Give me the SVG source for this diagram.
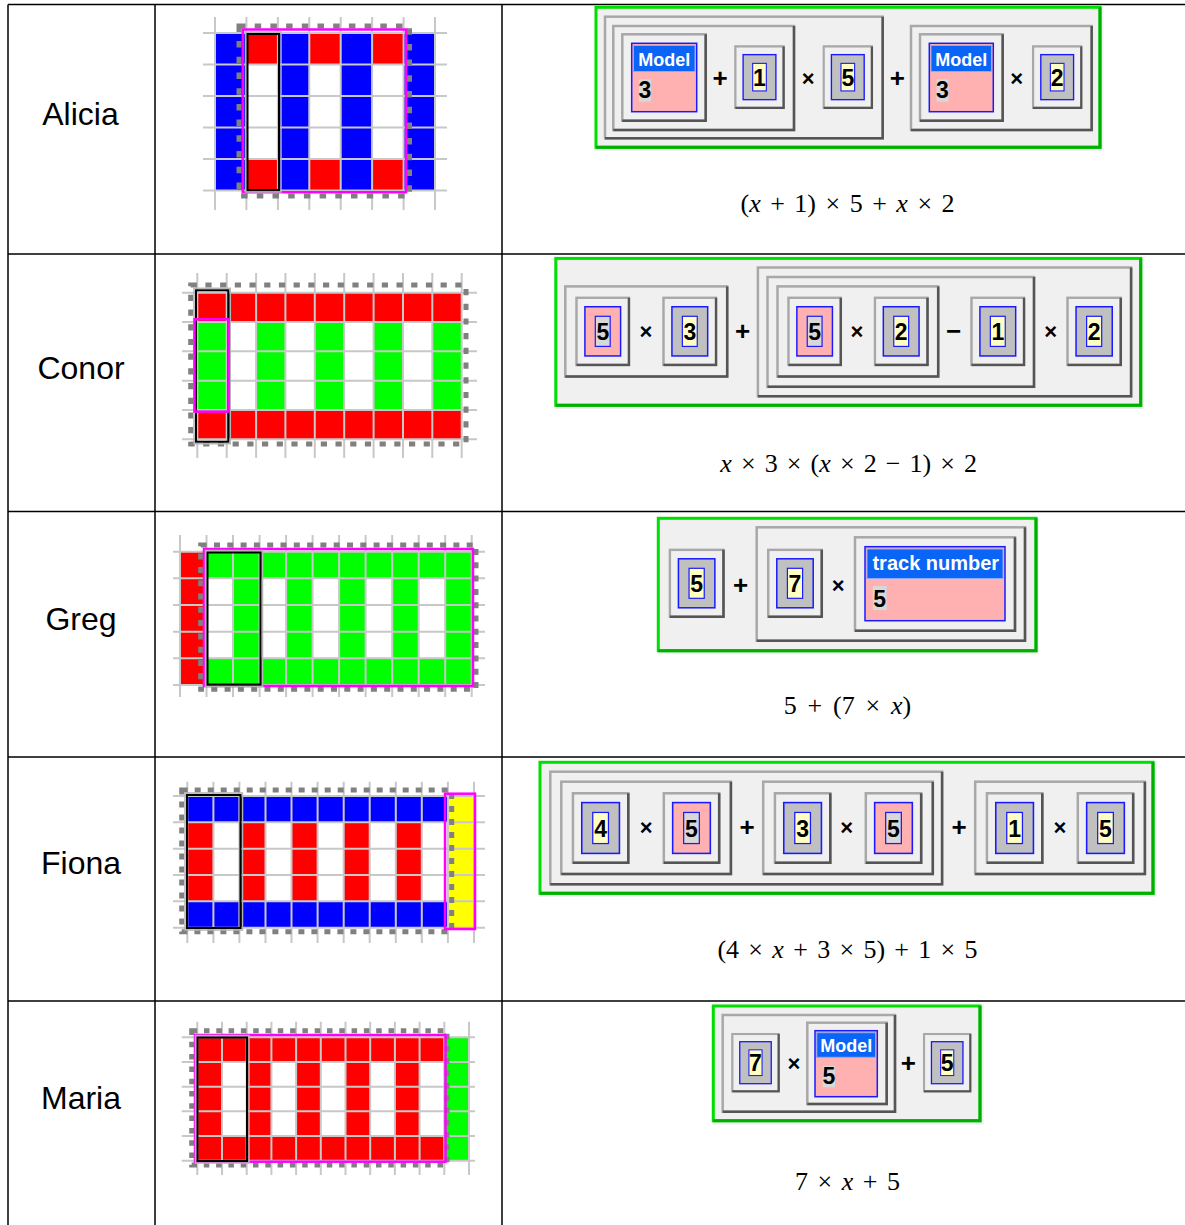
<svg xmlns="http://www.w3.org/2000/svg" width="1185" height="1225" viewBox="0 0 1185 1225">
<style>
.tl{stroke:#000;stroke-width:1.5}
.nm{font-family:"Liberation Sans",Arial,sans-serif;font-size:32px;text-anchor:middle;fill:#000}
.fm{font-family:"Liberation Serif","Times New Roman",serif;font-size:26px;text-anchor:middle;fill:#000}
.v{font-style:italic}
.gl{fill:none;stroke:#c8c8c8;stroke-width:2}
.R{fill:#ff0000}.B{fill:#0000ff}.G{fill:#00ff00}.Y{fill:#ffff00}
.dsh{fill:none;stroke:#808080;stroke-width:5}
.pk{fill:none;stroke:#ff00ff;stroke-width:2.5}
.sel{fill:none;stroke:#000;stroke-width:2}
.selo{fill:none;stroke:#b4b4b4;stroke-width:1.5}
.gm{fill:#f0f0f0}
.gb{fill:#f0f0f0;stroke:#00e000;stroke-width:3}
.gbs{fill:none;stroke:#00b000;stroke-width:3}
.bx{fill:#f0f0f0;stroke:#a8a8a8;stroke-width:2.5}
.bs{fill:none;stroke:#555;stroke-width:2.5}
.dg{font-family:"Liberation Sans",Arial,sans-serif;font-weight:bold;font-size:23px;text-anchor:middle;fill:#000}
.op{font-family:"Liberation Sans",Arial,sans-serif;font-weight:bold;font-size:26px;text-anchor:middle;fill:#000}
.ox{font-family:"Liberation Sans",Arial,sans-serif;font-weight:bold;font-size:22px;text-anchor:middle;fill:#000}
.mb{fill:#ffb0b0;stroke:#1a1aff;stroke-width:1.5}
.mh{fill:#0a64f5;stroke:#8caaff;stroke-width:1}
.mt{font-family:"Liberation Sans",Arial,sans-serif;font-weight:bold;font-size:18px;text-anchor:middle;fill:#fff}
.db{fill:#d8d8d8}
</style>
<defs>
<symbol id="tc" viewBox="0 0 56 70" preserveAspectRatio="none">
<rect x="1.5" y="1.5" width="53" height="67" fill="#f0f0f0" stroke="#a8a8a8" stroke-width="2.5"/>
<path d="M1.5 68.5H54.5V1.5" fill="none" stroke="#555" stroke-width="2.5"/>
<rect x="10" y="10.5" width="36" height="49" fill="#c0c0c0" stroke="#1a1aff" stroke-width="1.5"/>
<rect x="20.5" y="20" width="15" height="30" fill="#ffffc4" stroke="#1a1aff" stroke-width="1.2"/>
</symbol>
<symbol id="tv" viewBox="0 0 56 70" preserveAspectRatio="none">
<rect x="1.5" y="1.5" width="53" height="67" fill="#f0f0f0" stroke="#a8a8a8" stroke-width="2.5"/>
<path d="M1.5 68.5H54.5V1.5" fill="none" stroke="#555" stroke-width="2.5"/>
<rect x="10" y="10.5" width="36" height="49" fill="#ffb0b0" stroke="#1a1aff" stroke-width="1.5"/>
<rect x="20.5" y="20" width="15" height="30" fill="#d8d8d8" stroke="#1a1aff" stroke-width="1.2"/>
</symbol>
</defs>
<rect width="1185" height="1225" fill="#fff"/>

<g id="table">
<path class="tl" d="M8 4.5H1185M8 254H1185M8 511.5H1185M8 757H1185M8 1001H1185M8 4.5V1225M155 4.5V1225M502 4.5V1225"/>
</g>

<g id="row-alicia">
<text class="nm" x="80.5" y="124.5">Alicia</text>
<g id="grid-alicia">
<rect class="B" x="215" y="33" width="31.4" height="157.5"/>
<rect class="B" x="277.9" y="33" width="31.4" height="157.5"/>
<rect class="B" x="340.7" y="33" width="31.4" height="157.5"/>
<rect class="B" x="403.6" y="33" width="31.4" height="157.5"/>
<rect class="R" x="246.4" y="33" width="31.5" height="31.5"/><rect class="R" x="246.4" y="159" width="31.5" height="31.5"/>
<rect class="R" x="309.3" y="33" width="31.4" height="31.5"/><rect class="R" x="309.3" y="159" width="31.4" height="31.5"/>
<rect class="R" x="372.1" y="33" width="31.5" height="31.5"/><rect class="R" x="372.1" y="159" width="31.5" height="31.5"/>
<path class="gl" d="M215 17V210M246.4 17V210M277.9 17V210M309.3 17V210M340.7 17V210M372.1 17V210M403.6 17V210M435 17V210M203 33H447M203 64.5H447M203 96H447M203 127.5H447M203 159H447M203 190.5H447"/>
<rect class="dsh" x="239" y="26" width="170.5" height="170" stroke-dasharray="6.5 9.2"/>
<rect class="pk" x="242.8" y="29.5" width="163.3" height="162.7"/>
<rect class="selo" x="245.5" y="32" width="35.5" height="160"/>
<rect class="sel" x="247.5" y="34" width="31.5" height="156"/>
</g>
<g id="expr-alicia">
<rect class="gm" x="594.5" y="5.8" width="509" height="145"/>
<rect class="gb" x="596" y="7.3" width="504" height="140"/><path class="gbs" d="M596 147.3H1100V7.3"/>
<rect class="bx" x="605" y="16.7" width="277.7" height="121.6"/><path class="bs" d="M605 138.3H882.7V16.7"/>
<rect class="bx" x="613.3" y="26" width="180.7" height="104"/><path class="bs" d="M613.3 130H794V26"/>
<rect class="bx" x="622.3" y="34.3" width="83.4" height="86.4"/><path class="bs" d="M622.3 120.7H705.7V34.3"/>
<rect class="mb" x="631.7" y="43.3" width="65" height="68.4"/><rect class="mh" x="633.5" y="45.5" width="61.5" height="26"/>
<text class="mt" x="664.2" y="65.5">Model</text>
<rect class="db" x="639" y="79.3" width="12" height="22.4"/><text class="dg" x="645" y="97.5">3</text>
<text class="op" x="720" y="87">+</text>
<use href="#tc" x="734" y="45" width="51" height="64.3"/><text class="dg" x="759.5" y="85.5">1</text>
<text class="ox" x="808.3" y="86">×</text>
<use href="#tc" x="822.3" y="45" width="51" height="64.3"/><text class="dg" x="847.8" y="85.5">5</text>
<text class="op" x="897.3" y="87">+</text>
<rect class="bx" x="911" y="26" width="180.7" height="104"/><path class="bs" d="M911 130H1091.7V26"/>
<rect class="bx" x="920" y="34.3" width="82.7" height="86.4"/><path class="bs" d="M920 120.7H1002.7V34.3"/>
<rect class="mb" x="929.3" y="43.3" width="64" height="68.4"/><rect class="mh" x="931" y="45.5" width="60.5" height="26"/>
<text class="mt" x="961.3" y="65.5">Model</text>
<rect class="db" x="936.5" y="79.3" width="12" height="22.4"/><text class="dg" x="942.5" y="97.5">3</text>
<text class="ox" x="1016.7" y="86">×</text>
<use href="#tc" x="1031.7" y="45" width="51" height="64.3"/><text class="dg" x="1057.2" y="85.5">2</text>
</g>
<text class="fm" x="847.5" y="212" word-spacing="3">(<tspan class="v">x</tspan> + 1) × 5 + <tspan class="v">x</tspan> × 2</text>
</g>

<g id="row-conor">
<text class="nm" x="81" y="378.5">Conor</text>
<g id="grid-conor">
<rect class="R" x="197.3" y="292.7" width="264.4" height="29.3"/>
<rect class="R" x="197.3" y="410" width="264.4" height="29.3"/>
<rect class="G" x="197.3" y="322" width="29.4" height="88"/>
<rect class="G" x="256.1" y="322" width="29.3" height="88"/>
<rect class="G" x="314.8" y="322" width="29.4" height="88"/>
<rect class="G" x="373.6" y="322" width="29.4" height="88"/>
<rect class="G" x="432.3" y="322" width="29.4" height="88"/>
<path class="gl" d="M197.3 273V458M226.7 273V458M256.1 273V458M285.4 273V458M314.8 273V458M344.2 273V458M373.6 273V458M403 273V458M432.3 273V458M461.7 273V458M182 292.7H477M182 322H477M182 351.3H477M182 380.7H477M182 410H477M182 439.3H477"/>
<rect class="dsh" x="190.7" y="285" width="275.3" height="159" stroke-dasharray="6.2 8.5"/>
<rect class="selo" x="194" y="288.3" width="36.3" height="155.4"/>
<rect class="sel" x="196" y="290.3" width="32.3" height="151.4"/>
<rect class="pk" x="194.5" y="319.3" width="34" height="92.3"/>
</g>
<g id="expr-conor">
<rect class="gm" x="554.3" y="256.9" width="590" height="152"/>
<rect class="gb" x="555.8" y="258.4" width="584.9" height="146.9"/><path class="gbs" d="M555.8 405.3H1140.7V258.4"/>
<rect class="bx" x="565.3" y="286.4" width="161.9" height="90.2"/><path class="bs" d="M565.3 376.6H727.2V286.4"/>
<use href="#tv" x="575" y="296.2" width="55.5" height="70.3"/><text class="dg" x="602.8" y="339.8">5</text>
<text class="ox" x="645.9" y="339">×</text>
<use href="#tc" x="662" y="296.2" width="55.6" height="70.3"/><text class="dg" x="689.8" y="339.8">3</text>
<text class="op" x="742.6" y="340">+</text>
<rect class="bx" x="757.9" y="267.5" width="373.2" height="128.7"/><path class="bs" d="M757.9 396.2H1131.1V267.5"/>
<rect class="bx" x="767.5" y="277" width="266.5" height="109.8"/><path class="bs" d="M767.5 386.8H1034V277"/>
<rect class="bx" x="777.5" y="286.4" width="160.7" height="90.2"/><path class="bs" d="M777.5 376.6H938.2V286.4"/>
<use href="#tv" x="787" y="296.2" width="55.3" height="70.3"/><text class="dg" x="814.7" y="339.8">5</text>
<text class="ox" x="856.9" y="339">×</text>
<use href="#tc" x="873.4" y="296.2" width="55.6" height="70.3"/><text class="dg" x="901.2" y="339.8">2</text>
<text class="op" x="953.5" y="340">−</text>
<use href="#tc" x="970" y="296.2" width="55.6" height="70.3"/><text class="dg" x="997.8" y="339.8">1</text>
<text class="ox" x="1050.6" y="339">×</text>
<use href="#tc" x="1066" y="296.2" width="56.3" height="70.3"/><text class="dg" x="1094.2" y="339.8">2</text>
</g>
<text class="fm" x="848.7" y="472" word-spacing="2.6"><tspan class="v">x</tspan> × 3 × (<tspan class="v">x</tspan> × 2 − 1) × 2</text>
</g>

<g id="row-greg">
<text class="nm" x="81" y="629.5">Greg</text>
<g id="grid-greg">
<rect class="R" x="180" y="551.7" width="26.5" height="133.3"/>
<rect class="G" x="206.5" y="551.7" width="265.2" height="26.6"/>
<rect class="G" x="206.5" y="658.3" width="265.2" height="26.7"/>
<rect class="G" x="233" y="578.3" width="26.6" height="80"/>
<rect class="G" x="286.1" y="578.3" width="26.5" height="80"/>
<rect class="G" x="339.1" y="578.3" width="26.5" height="80"/>
<rect class="G" x="392.2" y="578.3" width="26.5" height="80"/>
<rect class="G" x="445.2" y="578.3" width="26.5" height="80"/>
<path class="gl" d="M180 535V697M206.5 535V697M233 535V697M259.6 535V697M286.1 535V697M312.6 535V697M339.1 535V697M365.6 535V697M392.2 535V697M418.7 535V697M445.2 535V697M471.7 535V697M173 551.7H485M173 578.3H485M173 605H485M173 631.7H485M173 658.3H485M173 685H485"/>
<rect class="dsh" x="200.7" y="545" width="275.3" height="144.3" stroke-dasharray="6 7.3"/>
<rect class="pk" x="204" y="549" width="269" height="137"/>
<rect class="selo" x="205.5" y="550.5" width="57" height="136"/>
<rect class="sel" x="207.5" y="552.5" width="53" height="132"/>
</g>
<g id="expr-greg">
<rect class="gm" x="656.8" y="516.8" width="382" height="137"/>
<rect class="gb" x="658.3" y="518.3" width="377.7" height="132.4"/><path class="gbs" d="M658.3 650.7H1036V518.3"/>
<use href="#tc" x="668.3" y="548.3" width="56.7" height="70"/><text class="dg" x="696.7" y="591.8">5</text>
<text class="op" x="740.7" y="594">+</text>
<rect class="bx" x="756.7" y="527.3" width="268.3" height="113.4"/><path class="bs" d="M756.7 640.7H1025V527.3"/>
<use href="#tc" x="766.7" y="548.3" width="56.6" height="70"/><text class="dg" x="795" y="591.8">7</text>
<text class="ox" x="838.3" y="593">×</text>
<rect class="bx" x="855" y="537.3" width="160" height="93.4"/><path class="bs" d="M855 630.7H1015V537.3"/>
<rect class="mb" x="865" y="546.7" width="140" height="74"/><rect class="mh" x="867" y="549" width="136" height="29.5"/>
<text class="mt" x="935.8" y="570" style="font-size:20px">track number</text>
<rect class="db" x="872.7" y="586" width="14" height="24"/><text class="dg" x="879.7" y="606.5">5</text>
</g>
<text class="fm" x="847.5" y="714" word-spacing="4.3">5 + (7 × <tspan class="v">x</tspan>)</text>
</g>

<g id="row-fiona">
<text class="nm" x="81" y="873.5">Fiona</text>
<g id="grid-fiona">
<rect class="B" x="187.3" y="796" width="260.6" height="26.3"/>
<rect class="B" x="187.3" y="901.3" width="260.6" height="26.4"/>
<rect class="R" x="187.3" y="822.3" width="26.1" height="79"/>
<rect class="R" x="239.4" y="822.3" width="26.1" height="79"/>
<rect class="R" x="291.5" y="822.3" width="26.1" height="79"/>
<rect class="R" x="343.7" y="822.3" width="26" height="79"/>
<rect class="R" x="395.8" y="822.3" width="26" height="79"/>
<rect class="Y" x="447.9" y="796" width="26.1" height="131.7"/>
<path class="gl" d="M187.3 781.7V943M213.4 781.7V943M239.4 781.7V943M265.5 781.7V943M291.5 781.7V943M317.6 781.7V943M343.7 781.7V943M369.7 781.7V943M395.8 781.7V943M421.8 781.7V943M447.9 781.7V943M474 781.7V943M173 796H485M173 822.3H485M173 848.7H485M173 875H485M173 901.3H485M173 927.7H485"/>
<rect class="dsh" x="181.7" y="790" width="270" height="141.7" stroke-dasharray="6 7"/>
<rect class="pk" x="445" y="793.7" width="30" height="135.3"/>
<rect class="selo" x="185" y="793" width="57.5" height="137"/>
<rect class="sel" x="187" y="795" width="53.5" height="133"/>
</g>
<g id="expr-fiona">
<rect class="gm" x="538.5" y="760.8" width="618" height="136"/>
<rect class="gb" x="540" y="762.3" width="613" height="131"/><path class="gbs" d="M540 893.3H1153V762.3"/>
<rect class="bx" x="550.3" y="771.7" width="391.8" height="112.6"/><path class="bs" d="M550.3 884.3H942.1V771.7"/>
<rect class="bx" x="561.3" y="781.7" width="169.6" height="92.3"/><path class="bs" d="M561.3 874H730.9V781.7"/>
<use href="#tc" x="571.3" y="791.7" width="58.6" height="72.6"/><text class="dg" x="600.6" y="836.5">4</text>
<text class="ox" x="646.1" y="834.7">×</text>
<use href="#tv" x="662.2" y="791.7" width="58.6" height="72.6"/><text class="dg" x="691.5" y="836.5">5</text>
<text class="op" x="747" y="835.7">+</text>
<rect class="bx" x="763.2" y="781.7" width="169.6" height="92.3"/><path class="bs" d="M763.2 874H932.8V781.7"/>
<use href="#tc" x="773.3" y="791.7" width="58.6" height="72.6"/><text class="dg" x="802.6" y="836.5">3</text>
<text class="ox" x="846.8" y="834.7">×</text>
<use href="#tv" x="864.2" y="791.7" width="58.6" height="72.6"/><text class="dg" x="893.5" y="836.5">5</text>
<text class="op" x="959" y="835.7">+</text>
<rect class="bx" x="975.2" y="781.7" width="169.7" height="92.3"/><path class="bs" d="M975.2 874H1144.9V781.7"/>
<use href="#tc" x="985.3" y="791.7" width="58.6" height="72.6"/><text class="dg" x="1014.6" y="836.5">1</text>
<text class="ox" x="1060" y="834.7">×</text>
<use href="#tc" x="1076.2" y="791.7" width="58.6" height="72.6"/><text class="dg" x="1105.5" y="836.5">5</text>
</g>
<text class="fm" x="847.5" y="958" word-spacing="2.8">(4 × <tspan class="v">x</tspan> + 3 × 5) + 1 × 5</text>
</g>

<g id="row-maria">
<text class="nm" x="81" y="1108.5">Maria</text>
<g id="grid-maria">
<rect class="R" x="197.3" y="1037.3" width="247" height="24.7"/>
<rect class="R" x="197.3" y="1136" width="247" height="24.7"/>
<rect class="R" x="197.3" y="1062" width="24.7" height="74"/>
<rect class="R" x="246.7" y="1062" width="24.7" height="74"/>
<rect class="R" x="296.1" y="1062" width="24.7" height="74"/>
<rect class="R" x="345.5" y="1062" width="24.7" height="74"/>
<rect class="R" x="394.9" y="1062" width="24.7" height="74"/>
<rect class="G" x="444.3" y="1037.3" width="24.7" height="123.4"/>
<path class="gl" d="M197.3 1021.7V1175M222 1021.7V1175M246.7 1021.7V1175M271.4 1021.7V1175M296.1 1021.7V1175M320.8 1021.7V1175M345.5 1021.7V1175M370.2 1021.7V1175M394.9 1021.7V1175M419.6 1021.7V1175M444.3 1021.7V1175M469 1021.7V1175M181.7 1037.3H475M181.7 1062H475M181.7 1086.7H475M181.7 1111.3H475M181.7 1136H475M181.7 1160.7H475"/>
<rect class="dsh" x="191.7" y="1030.7" width="255.3" height="134.3" stroke-dasharray="5.5 6.8"/>
<rect class="pk" x="195" y="1035" width="250.5" height="126.7"/>
<rect class="selo" x="195.5" y="1035.5" width="53.5" height="127.5"/>
<rect class="sel" x="197.5" y="1037.5" width="49.5" height="123.5"/>
</g>
<g id="expr-maria">
<rect class="gm" x="711.8" y="1004.5" width="272" height="120"/>
<rect class="gb" x="713.3" y="1006" width="266.7" height="114.7"/><path class="gbs" d="M713.3 1120.7H980V1006"/>
<rect class="bx" x="722.7" y="1015" width="172.3" height="96.7"/><path class="bs" d="M722.7 1111.7H895V1015"/>
<use href="#tc" x="731" y="1032.7" width="49" height="60"/><text class="dg" x="755.5" y="1071">7</text>
<text class="ox" x="794" y="1071.3">×</text>
<rect class="bx" x="807.3" y="1022.7" width="79.4" height="81.3"/><path class="bs" d="M807.3 1104H886.7V1022.7"/>
<rect class="mb" x="815" y="1030.7" width="62.3" height="66"/><rect class="mh" x="816.8" y="1032.7" width="58.7" height="24.6"/>
<text class="mt" x="846.2" y="1052">Model</text>
<rect class="db" x="822.7" y="1066" width="12.3" height="21.3"/><text class="dg" x="828.8" y="1084">5</text>
<text class="op" x="908.3" y="1072.3">+</text>
<use href="#tc" x="922.7" y="1032.7" width="49" height="60"/><text class="dg" x="947.2" y="1071">5</text>
</g>
<text class="fm" x="847.5" y="1190" word-spacing="3">7 × <tspan class="v">x</tspan> + 5</text>
</g>
</svg>
